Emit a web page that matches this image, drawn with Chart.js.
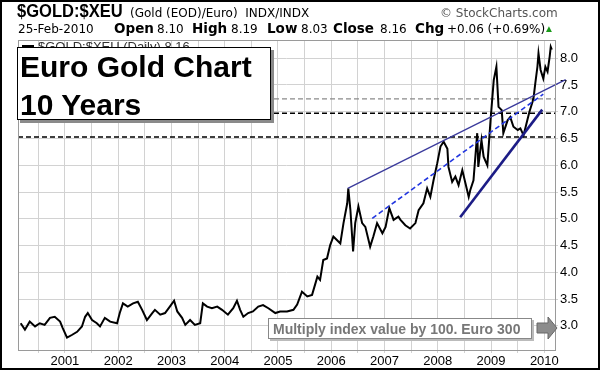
<!DOCTYPE html>
<html>
<head>
<meta charset="utf-8">
<script src="https://cdn.jsdelivr.net/npm/chart.js@4.4.1/dist/chart.umd.min.js"></script>
<style>
  body { margin: 0; background: #fff; }
  #wrap { position: relative; width: 600px; height: 370px; overflow: hidden; font-family: "Liberation Sans", Arial, sans-serif; color: #000; }
  #chart { position: absolute; left: 0; top: 0; }
  .t { position: absolute; white-space: nowrap; line-height: 1; }
  .d { font-family: "DejaVu Sans", Verdana, sans-serif; font-size: 12px; top: 23px; }
  .db { font-family: "DejaVu Sans", Verdana, sans-serif; font-weight: bold; font-size: 13.5px; top: 22px; }
  #sym { left: 17px; top: 1px; font-weight: bold; font-size: 19px; transform: scaleX(0.87); transform-origin: 0 0; }
  #legend { left: 22px; top: 40px; font-size: 13px; color: #333; }
  #legend i { display: inline-block; width: 12px; height: 2px; background: #000; vertical-align: 4px; margin-right: 4px; }
  #titlebox { position: absolute; left: 17px; top: 47px; width: 252px; height: 71px; background: #fff; border: 1px solid #000; box-shadow: 3px 3px 0 #8a8a8a; }
  .big { font-size: 30px; font-weight: bold; left: 20px; }
  #note { position: absolute; left: 268px; top: 318px; width: 262px; height: 19px; background: #fff; border: 1px solid #888; box-shadow: 2px 2px 0 #bbb; }
  #note span { position: absolute; left: 4px; top: 3px; font-size: 14px; font-weight: bold; color: #777; line-height: 1; white-space: nowrap; }
  #arrow { position: absolute; left: 536px; top: 316px; }
  #frame { position: absolute; left: 0; top: 0; width: 596px; height: 366px; border: 2px solid #000; pointer-events: none; }
</style>
</head>
<body>
<div id="wrap">
  <canvas id="chart" width="600" height="370"></canvas>

  <div id="sym" class="t">$GOLD:$XEU</div>
  <div class="t d" style="left:130px; top:7px;">(Gold (EOD)/Euro)&nbsp; INDX/INDX</div>
  <div class="t d" style="left:440px; top:7px; color:#555;">© StockCharts.com</div>

  <div class="t d" style="left:18px;">25-Feb-2010</div>
  <div class="t db" style="left:114px;">Open</div>
  <div class="t d" style="left:157px;">8.10</div>
  <div class="t db" style="left:192px;">High</div>
  <div class="t d" style="left:231px;">8.19</div>
  <div class="t db" style="left:267px;">Low</div>
  <div class="t d" style="left:301px;">8.03</div>
  <div class="t db" style="left:333px;">Close</div>
  <div class="t d" style="left:380px;">8.16</div>
  <div class="t db" style="left:415px;">Chg</div>
  <div class="t d" style="left:447px;">+0.06 (+0.69%)</div>
  <div class="t" style="left:544px; top:24px; font-size:10px; color:#1a9a1a;">▲</div>

  <div id="legend" class="t"><i></i>$GOLD:$XEU (Daily) 8.16</div>

  <div id="titlebox"></div>
  <div class="t big" style="top:52px;">Euro Gold Chart</div>
  <div class="t big" style="top:90px;">10 Years</div>

  <div id="note"><span>Multiply index value by 100. Euro 300</span></div>
  <svg id="arrow" width="22" height="24" viewBox="0 0 22 24">
    <polygon points="1,7 12,7 12,1 21,12 12,23 12,17 1,17" fill="#8c8c8c" stroke="#666" stroke-width="1"/>
  </svg>

  <div id="frame"></div>
</div>

<script>
// axis range (decimal years / index value)
const xMin = 2000.12;
const xMax = 2010.2;
const yMin = 2.55;
const yMax = 8.34;

// $GOLD:$XEU close (decimal year, value)
const years = [
  2000.17, 2000.25, 2000.34, 2000.44, 2000.53, 2000.62, 2000.72, 2000.81, 2000.91, 2000.96,
  2001.04, 2001.13, 2001.23, 2001.32, 2001.38, 2001.43, 2001.51, 2001.60, 2001.66, 2001.75,
  2001.85, 2001.98, 2002.03, 2002.09, 2002.18, 2002.28, 2002.37, 2002.45, 2002.54, 2002.64,
  2002.69, 2002.79, 2002.88, 2002.97, 2003.05, 2003.11, 2003.20, 2003.26, 2003.35, 2003.44,
  2003.54, 2003.59, 2003.67, 2003.76, 2003.86, 2003.95, 2004.06, 2004.16, 2004.23, 2004.29,
  2004.35, 2004.44, 2004.53, 2004.63, 2004.72, 2004.82, 2004.95, 2005.04, 2005.17, 2005.29,
  2005.36, 2005.45, 2005.55, 2005.64, 2005.74, 2005.79, 2005.85, 2005.92, 2005.98, 2006.04,
  2006.11, 2006.17, 2006.23, 2006.30, 2006.32, 2006.36, 2006.41, 2006.45, 2006.51, 2006.58,
  2006.64, 2006.73, 2006.79, 2006.86, 2006.96, 2007.02, 2007.09, 2007.17, 2007.26, 2007.30,
  2007.39, 2007.48, 2007.58, 2007.64, 2007.73, 2007.80, 2007.86, 2007.92, 2007.99, 2008.05,
  2008.11, 2008.18, 2008.20, 2008.27, 2008.33, 2008.39, 2008.46, 2008.52, 2008.58, 2008.61,
  2008.67, 2008.74, 2008.76, 2008.82, 2008.86, 2008.93, 2008.99, 2009.05, 2009.10, 2009.14,
  2009.20, 2009.23, 2009.31, 2009.36, 2009.42, 2009.50, 2009.55, 2009.61, 2009.68, 2009.72,
  2009.78, 2009.80, 2009.83, 2009.87, 2009.89, 2009.93, 2009.98, 2010.02, 2010.06, 2010.10,
  2010.12, 2010.14
];
const prices = [
  3.05, 2.93, 3.08, 2.99, 3.05, 3.02, 3.15, 3.17, 3.08, 2.96,
  2.78, 2.83, 2.89, 2.99, 3.17, 3.24, 3.11, 3.05, 2.99, 3.15,
  3.08, 3.05, 3.24, 3.42, 3.36, 3.42, 3.45, 3.30, 3.11, 3.24,
  3.30, 3.21, 3.24, 3.36, 3.47, 3.27, 3.15, 3.02, 3.11, 3.02,
  3.05, 3.42, 3.36, 3.33, 3.36, 3.30, 3.21, 3.33, 3.47, 3.30,
  3.17, 3.24, 3.27, 3.36, 3.39, 3.33, 3.24, 3.27, 3.27, 3.30,
  3.40, 3.64, 3.55, 3.58, 3.92, 3.86, 4.23, 4.26, 4.51, 4.67,
  4.60, 4.54, 4.92, 5.29, 5.57, 5.16, 4.39, 4.92, 5.23, 4.92,
  4.85, 4.48, 4.67, 4.92, 4.73, 4.85, 5.20, 4.98, 5.04, 4.98,
  4.88, 4.82, 4.92, 5.16, 5.29, 5.57, 5.41, 5.72, 6.04, 6.35,
  6.44, 6.31, 5.97, 5.69, 5.79, 5.63, 5.91, 5.66, 5.41, 5.54,
  5.72, 6.60, 5.97, 6.47, 6.16, 6.00, 6.84, 7.59, 7.84, 7.09,
  7.03, 6.60, 6.84, 6.90, 6.72, 6.66, 6.69, 6.56, 6.84, 7.00,
  7.19, 7.28, 7.53, 7.84, 8.09, 7.78, 7.62, 7.84, 7.75, 8.03,
  8.21, 8.16
];

// horizontal support / resistance levels
const levelBlack = [6.53, 6.97];
const levelGray = [7.24];

// trend lines: [start, end]
const upperX = [2006.31, 2010.40];
const upperY = [5.57, 7.60];
const midX = [2006.77, 2009.98];
const midY = [5.01, 7.33];
const lowerX = [2008.42, 2009.96];
const lowerY = [5.03, 7.04];

const pts = (xs, ys) => xs.map((x, i) => ({ x: x, y: ys[i] }));
const level = (v) => [{ x: xMin, y: v }, { x: xMax, y: v }];

const datasets = [
  {
    data: pts(years, prices),
    borderColor: "#000",
    borderWidth: 2,
    order: 2,
  },
  {
    data: pts(upperX, upperY),
    borderColor: "#3a3a9c",
    borderWidth: 1.3,
    clip: false,
    order: 1,
  },
  {
    data: pts(midX, midY),
    borderColor: "#2236e0",
    borderWidth: 1.6,
    borderDash: [5, 3],
    order: 1,
  },
  {
    data: pts(lowerX, lowerY),
    borderColor: "#1c1c86",
    borderWidth: 2.6,
    order: 1,
  },
];
levelBlack.forEach((v) =>
  datasets.push({ data: level(v), borderColor: "#000", borderWidth: 1.5, borderDash: [5, 3], order: 3 })
);
levelGray.forEach((v) =>
  datasets.push({ data: level(v), borderColor: "#8a8a8a", borderWidth: 1.2, borderDash: [5, 3], order: 3 })
);

// white plot, grey frame round it
const plotFrame = {
  id: "plotFrame",
  beforeDraw(chart) {
    const { ctx } = chart;
    ctx.save();
    ctx.fillStyle = "#fff";
    ctx.fillRect(0, 0, chart.width, chart.height);
    ctx.restore();
  },
  afterDraw(chart) {
    const { ctx, chartArea: a } = chart;
    ctx.save();
    ctx.strokeStyle = "#9a9a9a";
    ctx.lineWidth = 1;
    ctx.strokeRect(a.left + 0.5, a.top + 0.5, a.right - a.left, a.bottom - a.top);
    ctx.restore();
  },
};

new Chart(document.getElementById("chart"), {
  type: "line",
  data: { datasets: datasets },
  options: {
    responsive: false,
    animation: false,
    events: [],
    layout: { padding: { left: 18, top: 40, right: 0, bottom: 0 } },
    elements: { point: { radius: 0 }, line: { tension: 0 } },
    plugins: { legend: { display: false }, tooltip: { enabled: false } },
    scales: {
      x: {
        type: "linear",
        min: xMin,
        max: xMax,
        afterFit: (s) => { s.height = 20; },
        grid: { color: "#d2d2d2", tickLength: 3 },
        border: { display: false },
        ticks: {
          stepSize: 0.5,
          includeBounds: false,
          autoSkip: false,
          maxRotation: 0,
          padding: 1,
          color: "#000",
          font: { family: "Liberation Sans", size: 13 },
          callback: (v) => (Math.abs(v - Math.round(v)) < 0.01 ? String(Math.round(v)) : ""),
        },
      },
      y: {
        position: "right",
        min: yMin,
        max: yMax,
        afterFit: (s) => { s.width = 45; },
        grid: { color: "#d2d2d2", tickLength: 3 },
        border: { display: false },
        ticks: {
          stepSize: 0.5,
          includeBounds: false,
          padding: 2,
          color: "#000",
          font: { family: "Liberation Sans", size: 13 },
          callback: (v) => v.toFixed(1),
        },
      },
    },
  },
  plugins: [plotFrame],
});
</script>
</body>
</html>
